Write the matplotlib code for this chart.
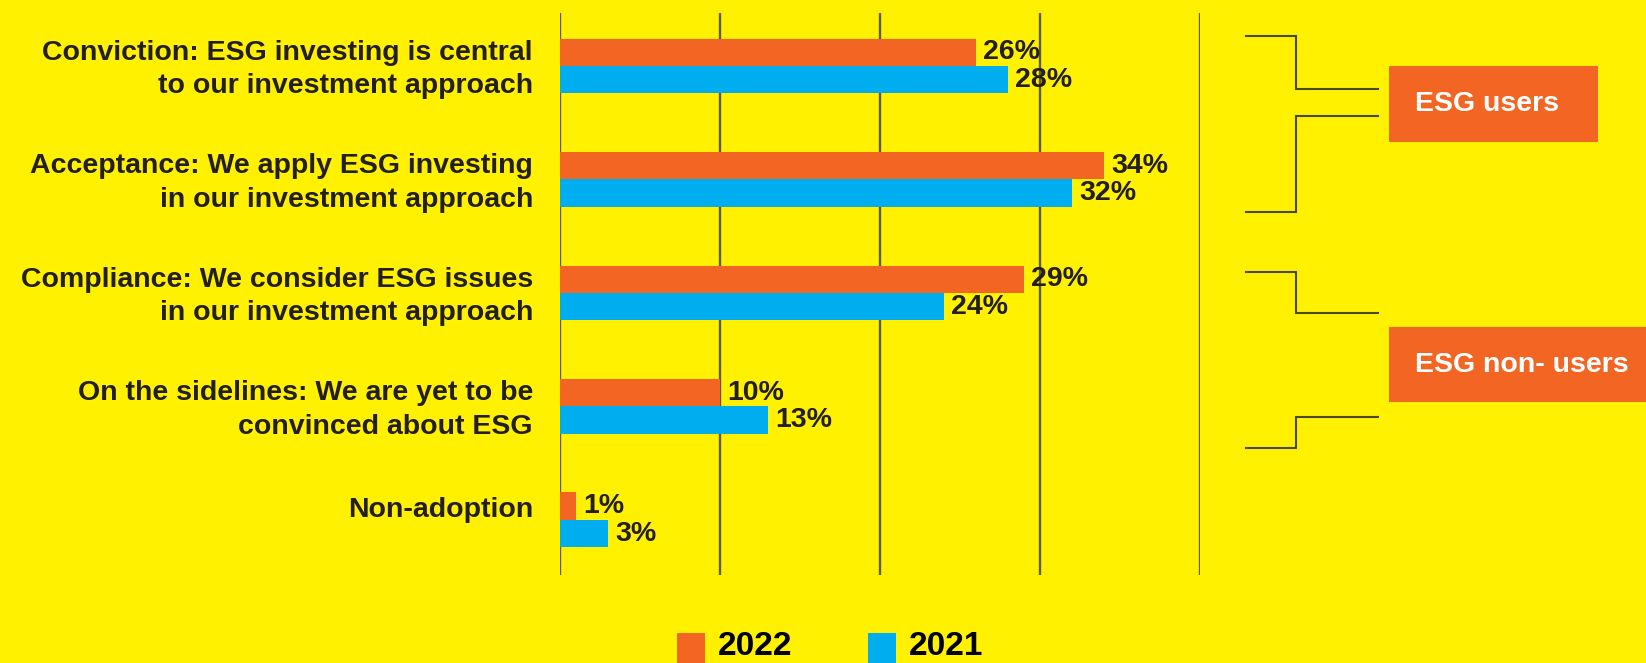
import numpy as np
import matplotlib.pyplot as plt
from matplotlib.patches import Rectangle

# Survey data
categories = ["Conviction: ESG investing is central\nto our investment approach",
              "Acceptance: We apply ESG investing\nin our investment approach",
              "Compliance: We consider ESG issues\nin our investment approach",
              "On the sidelines: We are yet to be\nconvinced about ESG",
              "Non-adoption"]
share_2022 = [26, 34, 29, 10, 1]
share_2021 = [28, 32, 24, 13, 3]
grid_ticks = [0, 10, 20, 30, 40]
groups = ["ESG users", "ESG non- users"]

YELLOW = '#FFF100'
ORANGE = '#F26522'
BLUE = '#00AEEF'
INK = '#231F20'
LINE = '#5E5A2E'
FONT = ['Liberation Sans', 'DejaVu Sans']

W, H = 1646, 663
fig = plt.figure(figsize=(W / 100, H / 100), dpi=100, facecolor=YELLOW)

# main bar axes, placed in pixels
ax = fig.add_axes([560 / W, (H - 575) / H, 640 / W, 562 / H])
ax.set_facecolor(YELLOW)
ax.set_xlim(0, 40)
ax.set_ylim(4.485, -0.467)
for s in ax.spines.values():
    s.set_visible(False)
ax.set_xticks([])
ax.set_yticks([])

ax.vlines(grid_ticks, 4.485, -0.467, color=LINE, lw=1.7, zorder=1)

y = np.arange(len(categories))
h = 0.242
ax.barh(y - h / 2, share_2022, height=h, color=ORANGE, zorder=2)
ax.barh(y + h / 2, share_2021, height=h, color=BLUE, zorder=2)

for yi, v in zip(y - h / 2, share_2022):
    ax.annotate(f"{v}%", (v, yi), xytext=(5, 0), textcoords='offset points',
                ha='left', va='center', fontsize=20.5, fontweight='bold',
                color=INK, family=FONT, zorder=3)
for yi, v in zip(y + h / 2, share_2021):
    ax.annotate(f"{v}%", (v, yi), xytext=(5, 0), textcoords='offset points',
                ha='left', va='center', fontsize=20.5, fontweight='bold',
                color=INK, family=FONT, zorder=3)

for yi, lab in zip(y, categories):
    ypos = yi if '\n' in lab else yi - h / 2
    ax.annotate(lab, (0, ypos), xytext=(-19.5, -2.5), textcoords='offset points',
                ha='right', va='center', fontsize=20.5, fontweight='bold',
                color=INK, family=FONT, linespacing=1.38, annotation_clip=False)

# overlay in pixel space for brackets, group boxes and legend
ov = fig.add_axes([0, 0, 1, 1], facecolor='none')
ov.set_xlim(0, W)
ov.set_ylim(H, 0)
ov.axis('off')

brackets = [
    [(1246, 36), (1296, 36), (1296, 89), (1378, 89)],
    [(1378, 116), (1296, 116), (1296, 212), (1246, 212)],
    [(1246, 272), (1296, 272), (1296, 313), (1378, 313)],
    [(1378, 417), (1296, 417), (1296, 448), (1246, 448)],
]
for pts in brackets:
    xs, ys = zip(*pts)
    ov.plot(xs, ys, color='#4B4936', lw=1.5, solid_joinstyle='miter')

boxes = [(1389, 66, 209, 76), (1389, 327, 280, 75)]
for (bx, by, bw, bh), name in zip(boxes, groups):
    ov.add_patch(Rectangle((bx, by), bw, bh, color=ORANGE, lw=0))
    ov.text(bx + 26, by + bh / 2, name, ha='left', va='center', fontsize=20.5,
            fontweight='bold', color='white', family=FONT)

# legend along the bottom edge
for x0, col, lab in [(677, ORANGE, '2022'), (868, BLUE, '2021')]:
    ov.add_patch(Rectangle((x0, 633), 28, 40, color=col, lw=0))
    ov.text(x0 + 41, 662, lab, ha='left', va='bottom', fontsize=24,
            fontweight='bold', color='black', family=FONT)

fig.savefig('out.png', dpi=100, facecolor=YELLOW)
